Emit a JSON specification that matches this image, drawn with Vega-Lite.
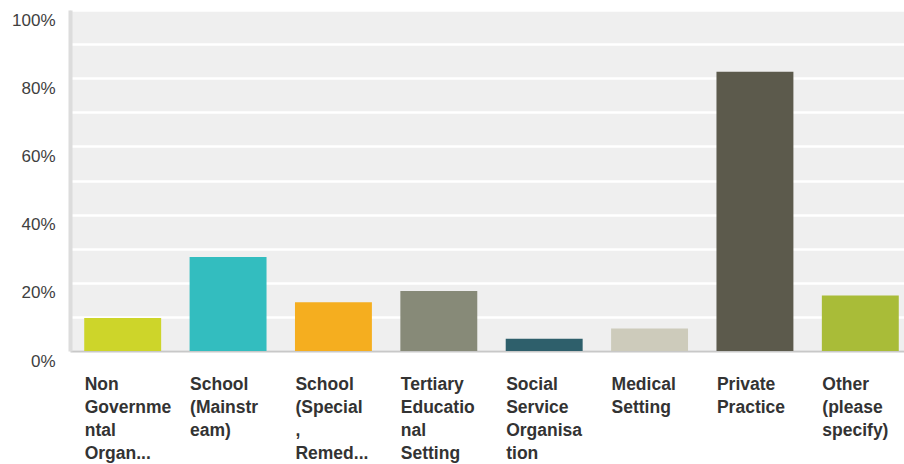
{
  "$schema": "https://vega.github.io/schema/vega-lite/v6.json",
  "width": 843,
  "height": 341,
  "autosize": {"type": "none"},
  "padding": {"left": 70, "top": 10, "right": -9, "bottom": 113},
  "background": "white",
  "config": {
    "view": {"fill": "#efefef", "stroke": null},
    "font": "Liberation Sans"
  },
  "data": {
    "values": [
      {"category": "Non\nGovernme\nntal\nOrgan...", "pct": 9.7, "color": "#cdd52a"},
      {"category": "School\n(Mainstr\neam)", "pct": 27.6, "color": "#33bdbf"},
      {"category": "School\n(Special\n,\nRemed...", "pct": 14.3, "color": "#f5ae1f"},
      {"category": "Tertiary\nEducatio\nnal\nSetting", "pct": 17.6, "color": "#878a78"},
      {"category": "Social\nService\nOrganisa\ntion", "pct": 3.6, "color": "#2e5f6b"},
      {"category": "Medical\nSetting", "pct": 6.6, "color": "#cdcbbb"},
      {"category": "Private\nPractice", "pct": 81.9, "color": "#5c5a4c"},
      {"category": "Other\n(please\nspecify)", "pct": 16.3, "color": "#a9bc38"}
    ]
  },
  "mark": {"type": "bar"},
  "encoding": {
    "x": {
      "field": "category",
      "type": "nominal",
      "sort": null,
      "scale": {"paddingInner": 0.27, "paddingOuter": 0.135},
      "axis": {
        "title": null,
        "labelAngle": 0,
        "labelAlign": "left",
        "labelBaseline": "top",
        "labelOffset": -38,
        "labelPadding": 24,
        "labelFontSize": 17.5,
        "labelFontWeight": "bold",
        "labelColor": "#333333",
        "labelLineHeight": 23,
        "labelExpr": "split(datum.label, '\\n')",
        "ticks": false,
        "domainColor": "#c8c8c8",
        "domainWidth": 2,
        "grid": false
      }
    },
    "y": {
      "field": "pct",
      "type": "quantitative",
      "scale": {"domain": [0, 100], "nice": false},
      "axis": {
        "title": null,
        "values": [0, 10, 20, 30, 40, 50, 60, 70, 80, 90, 100],
        "labelExpr": "datum.value % 20 == 0 ? datum.value + '%' : ''",
        "labelFontSize": 17,
        "labelColor": "#404040",
        "labelOffset": 10,
        "labelPadding": 15,
        "ticks": false,
        "domainColor": "#dcdcdc",
        "domainWidth": 4,
        "grid": true,
        "gridColor": "white",
        "gridWidth": 2.5,
        "gridOpacity": 1
      }
    },
    "color": {"field": "color", "type": "nominal", "scale": null, "legend": null}
  }
}
